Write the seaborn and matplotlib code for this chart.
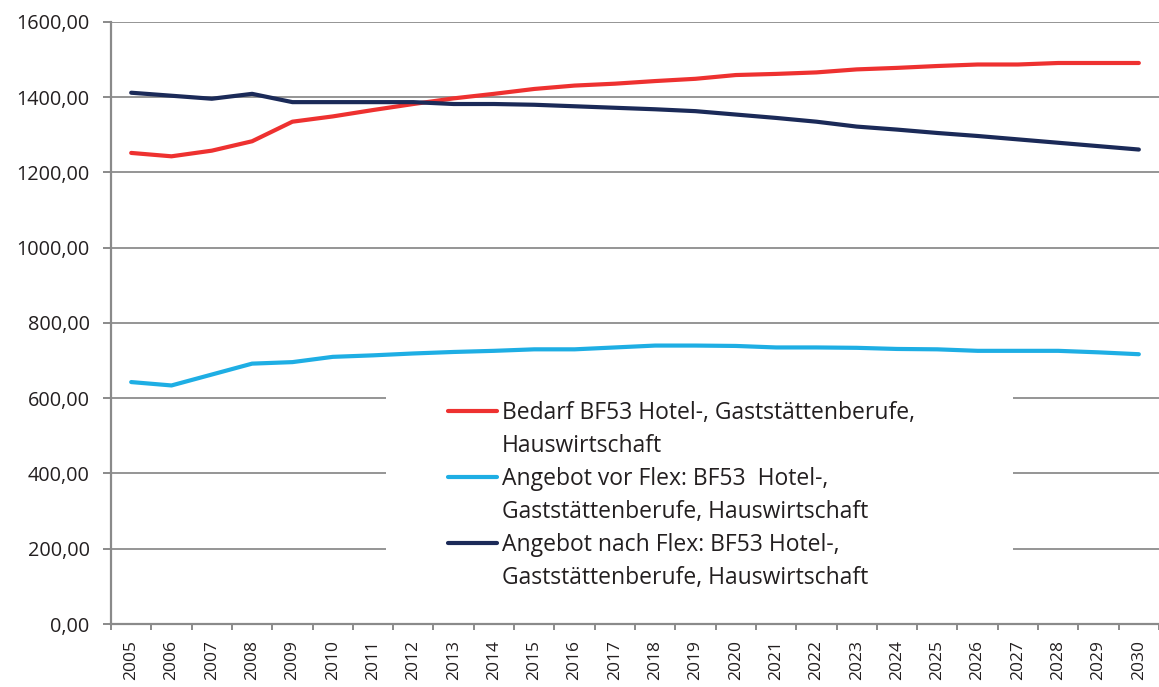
import matplotlib
matplotlib.use("Agg")
import matplotlib.pyplot as plt
import matplotlib.ticker as mticker
from matplotlib.lines import Line2D
from matplotlib.patches import Rectangle
import pandas as pd
import seaborn as sns

# Data
years = list(range(2005, 2031))
bedarf = [1252, 1243, 1258, 1283, 1335, 1349, 1366, 1382, 1397, 1409, 1422, 1431, 1436,
          1443, 1449, 1459, 1462, 1466, 1474, 1478, 1483, 1487, 1487, 1491, 1491, 1491]
angebot_vor = [643, 634, 663, 692, 696, 710, 714, 719, 723, 726, 730, 730, 735,
               740, 740, 739, 735, 735, 734, 731, 730, 726, 726, 726, 722, 717]
angebot_nach = [1412, 1404, 1396, 1409, 1387, 1387, 1387, 1387, 1382, 1382, 1380, 1376, 1372,
                1368, 1363, 1354, 1345, 1335, 1322, 1314, 1305, 1297, 1288, 1279, 1270, 1261]
series_names = [
    "Bedarf BF53 Hotel-, Gaststättenberufe,\nHauswirtschaft",
    "Angebot vor Flex: BF53  Hotel-,\nGaststättenberufe, Hauswirtschaft",
    "Angebot nach Flex: BF53 Hotel-,\nGaststättenberufe, Hauswirtschaft",
]
colors = ["#EE3130", "#1EAEE4", "#1B2A58"]

df = pd.concat([
    pd.DataFrame({"Jahr": years, "Wert": vals, "Reihe": name})
    for name, vals in zip(series_names, [bedarf, angebot_vor, angebot_nach])
])

sns.set_style("white")
plt.rcParams["font.family"] = ["Open Sans", "DejaVu Sans"]

fig = plt.figure(figsize=(11.59, 6.87), dpi=100)
ax = fig.add_axes([0.0958, 0.0917, 0.9042, 0.8763])

sns.lineplot(data=df, x="Jahr", y="Wert", hue="Reihe", palette=colors,
             linewidth=3.0, ax=ax, legend=False, zorder=3,
             solid_capstyle="round")

ax.set_xlim(2004.5, 2030.5)
ax.set_ylim(0, 1600)
ax.set_xlabel("")
ax.set_ylabel("")

ax.yaxis.set_major_locator(mticker.MultipleLocator(200))
ax.yaxis.set_major_formatter(mticker.FuncFormatter(lambda v, p: f"{v:.2f}".replace(".", ",")))
ax.set_xticks(years)
ax.set_xticklabels([str(y) for y in years], rotation=90)
ax.set_xticks([y - 0.5 for y in years] + [2030.5], minor=True)

ax.grid(axis="y", color="#959595", linewidth=1.4, zorder=1)
ax.set_axisbelow(True)
for s in ["top", "right"]:
    ax.spines[s].set_visible(False)
for s in ["left", "bottom"]:
    ax.spines[s].set_color("#8a8a8a")
    ax.spines[s].set_linewidth(1.6)

ax.tick_params(axis="y", which="major", direction="out", length=5.5, width=1.4,
               color="#8a8a8a", labelsize=14.3, pad=10, labelcolor="#231f20", left=True)
ax.tick_params(axis="x", which="major", length=0, labelsize=12.5, pad=11.5, labelcolor="#231f20")
ax.tick_params(axis="x", which="minor", direction="out", length=4, width=1.4,
               color="#8a8a8a", bottom=True)

# white legend area covering the gridlines
ax.add_patch(Rectangle((0.262, 0.05), 0.599, 0.38, transform=ax.transAxes,
                       facecolor="white", edgecolor="none", zorder=2))

blank = Line2D([], [], color="none")
handles, labels = [], []
for name, c in zip(series_names, colors):
    first, second = name.split("\n")
    handles += [Line2D([], [], color=c, linewidth=3.0, solid_capstyle="round"), blank]
    labels += [first, second]

leg = ax.legend(handles, labels, loc="upper left", bbox_to_anchor=(0.3216, 0.370),
                frameon=False, fontsize=16.5, handlelength=2.14, handletextpad=0.22,
                labelspacing=0.39, borderaxespad=0, borderpad=0)
for t in leg.get_texts():
    t.set_color("#231f20")

fig.savefig("out.png", dpi=100)
